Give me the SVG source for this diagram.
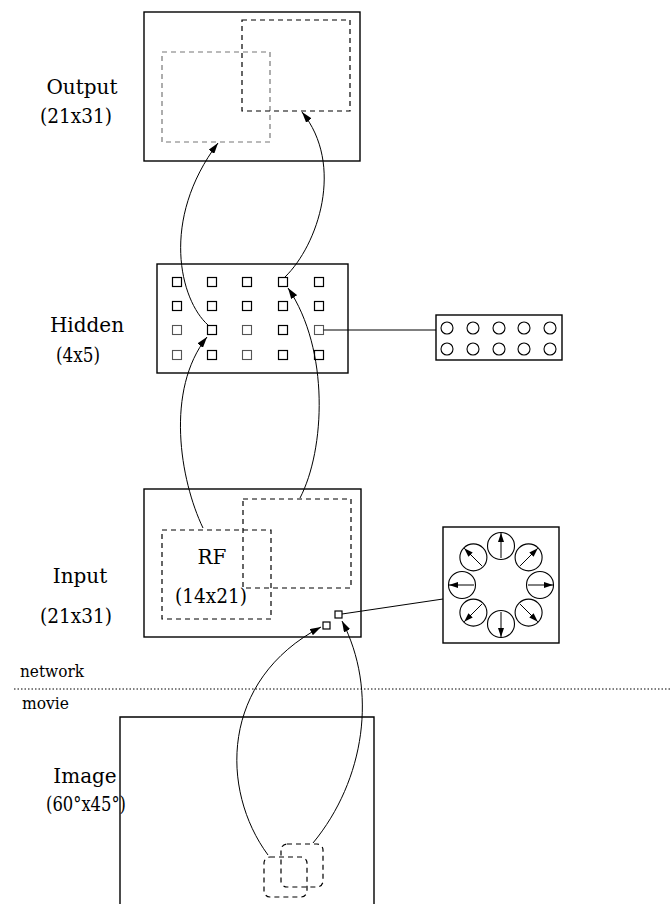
<svg xmlns="http://www.w3.org/2000/svg" width="671" height="906" viewBox="0 0 671 906">
<style>
.box{fill:none;stroke:#000;stroke-width:1.4}
.dash{fill:none;stroke:#000;stroke-width:1.2;stroke-dasharray:5 4}
.dashg{fill:none;stroke:#777;stroke-width:1.2;stroke-dasharray:5 4}
.sq{fill:#fff;stroke:#000;stroke-width:1.2}
.sqg{fill:#fff;stroke:#555;stroke-width:1.1}
.cir{fill:#fff;stroke:#000;stroke-width:1.1}
.conn{fill:none;stroke:#000;stroke-width:1}
.lbl{font-family:"DejaVu Serif","Liberation Serif",serif;font-size:20px;fill:#000}
.sm{font-family:"DejaVu Serif","Liberation Serif",serif;font-size:16.5px;fill:#000}
</style>
<defs>
<marker id="ah" markerUnits="userSpaceOnUse" markerWidth="11" markerHeight="7" refX="11" refY="3.5" orient="auto">
<path d="M0,0 L11,3.5 L0,7 z" fill="#000"/>
</marker>
<marker id="ahs" markerUnits="userSpaceOnUse" markerWidth="9" markerHeight="6" refX="9" refY="3" orient="auto">
<path d="M0,0 L9,3 L0,6 z" fill="#000"/>
</marker>
</defs>

<g id="output">
<rect class="box" x="144" y="12" width="216" height="149"/>
<rect class="dashg" x="162" y="52" width="108" height="90"/>
<rect class="dash" x="242" y="20" width="108" height="91"/>
<text class="lbl" x="82" y="94" text-anchor="middle">Output</text>
<text class="lbl" x="76" y="123" text-anchor="middle" textLength="72" lengthAdjust="spacingAndGlyphs">(21x31)</text>
</g>

<g id="hidden">
<rect class="box" x="157" y="264" width="191" height="109"/>
<g>
<rect class="sq" x="172.5" y="277.5" width="9" height="9"/>
<rect class="sq" x="207.5" y="277.5" width="9" height="9"/>
<rect class="sq" x="242.5" y="277.5" width="9" height="9"/>
<rect class="sq" x="278.5" y="277.5" width="9" height="9"/>
<rect class="sq" x="314.5" y="277.5" width="9" height="9"/>
<rect class="sq" x="172.5" y="301.5" width="9" height="9"/>
<rect class="sq" x="207.5" y="301.5" width="9" height="9"/>
<rect class="sq" x="242.5" y="301.5" width="9" height="9"/>
<rect class="sq" x="278.5" y="301.5" width="9" height="9"/>
<rect class="sq" x="314.5" y="301.5" width="9" height="9"/>
<rect class="sqg" x="172.5" y="325.5" width="9" height="9"/>
<rect class="sq" x="207.5" y="325.5" width="9" height="9"/>
<rect class="sqg" x="242.5" y="325.5" width="9" height="9"/>
<rect class="sq" x="278.5" y="325.5" width="9" height="9"/>
<rect class="sqg" x="314.5" y="325.5" width="9" height="9"/>
<rect class="sqg" x="172.5" y="350.5" width="9" height="9"/>
<rect class="sq" x="207.5" y="350.5" width="9" height="9"/>
<rect class="sqg" x="242.5" y="350.5" width="9" height="9"/>
<rect class="sq" x="278.5" y="350.5" width="9" height="9"/>
<rect class="sq" x="314.5" y="350.5" width="9" height="9"/>
</g>
<text class="lbl" x="87" y="332" text-anchor="middle">Hidden</text>
<text class="lbl" x="78" y="362" text-anchor="middle" textLength="44" lengthAdjust="spacingAndGlyphs">(4x5)</text>
</g>

<g id="hidden-units">
<rect class="box" x="436" y="315" width="126" height="45"/>
<circle class="cir" cx="447" cy="328" r="6"/>
<circle class="cir" cx="473" cy="328" r="6"/>
<circle class="cir" cx="499" cy="328" r="6"/>
<circle class="cir" cx="524" cy="328" r="6"/>
<circle class="cir" cx="550" cy="328" r="6"/>
<circle class="cir" cx="447" cy="349" r="6"/>
<circle class="cir" cx="473" cy="349" r="6"/>
<circle class="cir" cx="499" cy="349" r="6"/>
<circle class="cir" cx="524" cy="349" r="6"/>
<circle class="cir" cx="550" cy="349" r="6"/>
</g>

<g id="input">
<rect class="box" x="144" y="489" width="217" height="148"/>
<rect class="dash" x="162" y="530" width="109" height="89"/>
<rect class="dash" x="243" y="499" width="108" height="89"/>
<text class="lbl" x="212" y="564" text-anchor="middle">RF</text>
<text class="lbl" x="211" y="603" text-anchor="middle" textLength="72" lengthAdjust="spacingAndGlyphs">(14x21)</text>
<rect class="sq" x="335" y="611" width="7" height="7"/>
<rect class="sq" x="323" y="622" width="7" height="7"/>
<text class="lbl" x="80" y="583" text-anchor="middle">Input</text>
<text class="lbl" x="76" y="623" text-anchor="middle" textLength="72" lengthAdjust="spacingAndGlyphs">(21x31)</text>
</g>

<g id="input-filters">
<rect class="box" x="443" y="527" width="116" height="116"/>
<circle class="cir" cx="540" cy="585" r="13.5"/>
<circle class="cir" cx="528.6" cy="612.6" r="13.5"/>
<circle class="cir" cx="501" cy="624" r="13.5"/>
<circle class="cir" cx="473.4" cy="612.6" r="13.5"/>
<circle class="cir" cx="462" cy="585" r="13.5"/>
<circle class="cir" cx="473.4" cy="557.4" r="13.5"/>
<circle class="cir" cx="501" cy="546" r="13.5"/>
<circle class="cir" cx="528.6" cy="557.4" r="13.5"/>
<g class="conn" marker-end="url(#ahs)">
<line x1="528" y1="585" x2="553" y2="585"/>
<line x1="520.1" y1="604.1" x2="537.8" y2="621.8"/>
<line x1="501" y1="612" x2="501" y2="637"/>
<line x1="481.9" y1="604.1" x2="464.2" y2="621.8"/>
<line x1="474" y1="585" x2="449" y2="585"/>
<line x1="481.9" y1="565.9" x2="464.2" y2="548.2"/>
<line x1="501" y1="558" x2="501" y2="533"/>
<line x1="520.1" y1="565.9" x2="537.8" y2="548.2"/>
</g>
</g>

<g id="separator">
<line x1="14" y1="689" x2="671" y2="689" stroke="#000" stroke-width="1" stroke-dasharray="1.5 2"/>
<text class="sm" x="20" y="677" textLength="64" lengthAdjust="spacingAndGlyphs">network</text>
<text class="sm" x="22" y="709" textLength="47" lengthAdjust="spacingAndGlyphs">movie</text>
</g>

<g id="movie">
<path class="box" d="M120,904 V717 H374 V904"/>
<rect class="dash" x="264" y="857" width="43" height="40" rx="6"/>
<rect class="dash" x="281" y="844" width="42" height="43" rx="6"/>
<text class="lbl" x="85" y="783" text-anchor="middle">Image</text>
<text class="lbl" x="86" y="811" text-anchor="middle" textLength="80" lengthAdjust="spacingAndGlyphs">(60°x45°)</text>
</g>

<g id="connectors">
<path class="conn" d="M208,325 C180,300 160,220 218,143" marker-end="url(#ah)"/>
<path class="conn" d="M285,277 C318,245 345,165 302,112" marker-end="url(#ah)"/>
<path class="conn" d="M203,528 C180,480 165,390 207,337" marker-end="url(#ah)"/>
<path class="conn" d="M300,498 C325,450 330,350 288,288" marker-end="url(#ah)"/>
<path class="conn" d="M268,855 C220,790 220,680 321,627" marker-end="url(#ah)"/>
<path class="conn" d="M313,843 C365,780 378,690 342,621" marker-end="url(#ah)"/>
<line class="conn" x1="323.5" y1="330" x2="436" y2="330"/>
<line class="conn" x1="342" y1="614" x2="443" y2="599"/>
</g>
</svg>
